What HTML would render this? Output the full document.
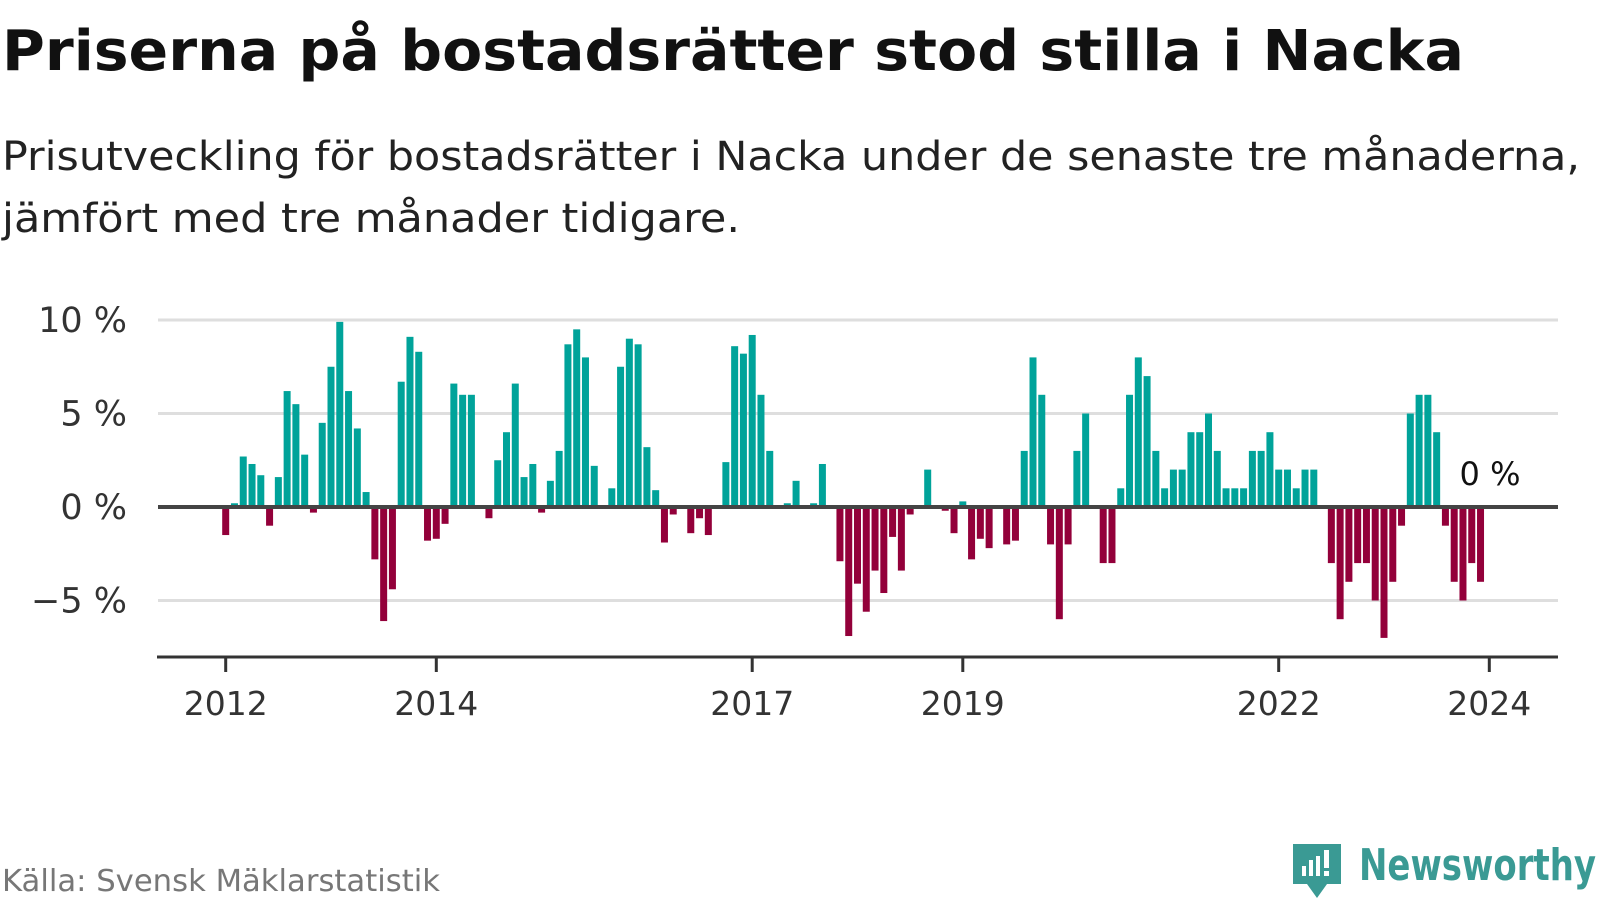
<!DOCTYPE html>
<html><head><meta charset="utf-8"><style>
html,body{margin:0;padding:0;background:#fff;}
svg{display:block;font-family:"DejaVu Sans","Liberation Sans",sans-serif;}
</style></head><body>
<svg id="chart" width="1600" height="900" viewBox="0 0 1600 900" xmlns="http://www.w3.org/2000/svg">
<text x="2" y="70" font-size="56" font-weight="bold" fill="#111" textLength="1462" lengthAdjust="spacingAndGlyphs">Priserna på bostadsrätter stod stilla i Nacka</text>
<text x="2" y="170" font-size="40" fill="#222" textLength="1578" lengthAdjust="spacingAndGlyphs">Prisutveckling för bostadsrätter i Nacka under de senaste tre månaderna,</text>
<text x="2" y="232" font-size="40" fill="#222" textLength="738" lengthAdjust="spacingAndGlyphs">jämfört med tre månader tidigare.</text>
<g id="grid"></g>
<g id="bars"></g>
<g id="axes"></g>
<text x="1490" y="485" font-size="32" fill="#111" text-anchor="middle">0 %</text>
<text x="2" y="891" font-size="30" fill="#777" textLength="438" lengthAdjust="spacingAndGlyphs">Källa: Svensk Mäklarstatistik</text>
<g>
  <path d="M1293 844 h48 v40 h-14 l-10 14 l-10 -14 h-14 z" fill="#3a9a94"/>
  <rect x="1302" y="866" width="4" height="10" fill="#fff"/>
  <rect x="1309" y="860" width="4" height="16" fill="#fff"/>
  <rect x="1316" y="856" width="4" height="20" fill="#fff"/>
  <rect x="1324" y="850" width="5" height="18" fill="#fff"/>
  <rect x="1324" y="871" width="5" height="5" fill="#fff"/>
  <text x="1359" y="880" font-size="44" font-weight="bold" fill="#3a9a94" textLength="237" lengthAdjust="spacingAndGlyphs">Newsworthy</text>
</g>
</svg>
<script>
const values = [
-1.5,0.2,2.7,2.3,1.7,-1.0,1.6,6.2,5.5,2.8,-0.3,4.5,7.5,9.9,6.2,4.2,0.8,-2.8,-6.1,-4.4,
6.7,9.1,8.3,-1.8,-1.7,-0.9,6.6,6.0,6.0,0,-0.6,2.5,4.0,6.6,1.6,2.3,-0.3,1.4,3.0,8.7,
9.5,8.0,2.2,0,1.0,7.5,9.0,8.7,3.2,0.9,-1.9,-0.4,0,-1.4,-0.6,-1.5,0,2.4,8.6,8.2,
9.2,6.0,3.0,0,0.2,1.4,0,0.2,2.3,0,-2.9,-6.9,-4.1,-5.6,-3.4,-4.6,-1.6,-3.4,-0.4,0,
2.0,-0.1,-0.2,-1.4,0.3,-2.8,-1.7,-2.2,0,-2.0,-1.8,3.0,8.0,6.0,-2.0,-6.0,-2.0,3.0,5.0,0,
-3,-3,1,6,8,7,3,1,2,2,4,4,5,3,1,1,1,3,3,4,
2,2,1,2,2,0,-3,-6,-4,-3,-3,-5,-7,-4,-1,5,6,6,4,-1,
-4,-5,-3,-4];
const startYear = 2012;
const yTicks = [10,5,0,-5];
const yTickLabels = ["10 %","5 %","0 %","\u22125 %"];
const xTicks = [2012,2014,2017,2019,2022,2024];

const NS="http://www.w3.org/2000/svg";
const X0=225.7, PER_YEAR=105.3;
function xYear(y){return X0+(y-2012)*PER_YEAR;}
function xMonth(i){return X0+i*PER_YEAR/12;}
function yVal(v){return 507-v*18.7;}
function mk(tag,attrs,parent){const e=document.createElementNS(NS,tag);for(const k in attrs)e.setAttribute(k,attrs[k]);parent.appendChild(e);return e;}
const grid=document.getElementById('grid'),bars=document.getElementById('bars'),axes=document.getElementById('axes');
yTicks.forEach((t,i)=>{
  if(t!==0){
    const l=mk('line',{x1:158,x2:1558,y1:yVal(t),y2:yVal(t),stroke:'#dedede','stroke-width':3},grid);
    
    
  }
  const tx=mk('text',{x:127,y:yVal(t)+12,'font-size':35,fill:'#333','text-anchor':'end'},axes);
  tx.textContent=yTickLabels[i];
  
  
});
values.forEach((v,i)=>{
  const cx=xMonth(i), w=7;
  const y=v>=0?yVal(v):yVal(0), h=Math.abs(yVal(v)-yVal(0));
  const r=mk('rect',{x:cx-w/2,y:y,width:w,height:h,fill:v>=0?'#00a39a':'#93003a'},bars);
  
  
});
const zl=mk('line',{x1:158,x2:1558,y1:yVal(0),y2:yVal(0),stroke:'#444','stroke-width':4},axes);


const bl=mk('line',{x1:157,x2:1558,y1:657,y2:657,stroke:'#333','stroke-width':3},axes);


xTicks.forEach(yr=>{
  const x=xYear(yr);
  const tk=mk('line',{x1:x,x2:x,y1:657,y2:672,stroke:'#333','stroke-width':3},axes);
  
  
  const tx=mk('text',{x:x,y:715,'font-size':33,fill:'#333','text-anchor':'middle'},axes);
  tx.textContent=String(yr);
  
  
});
</script>
</body></html>
